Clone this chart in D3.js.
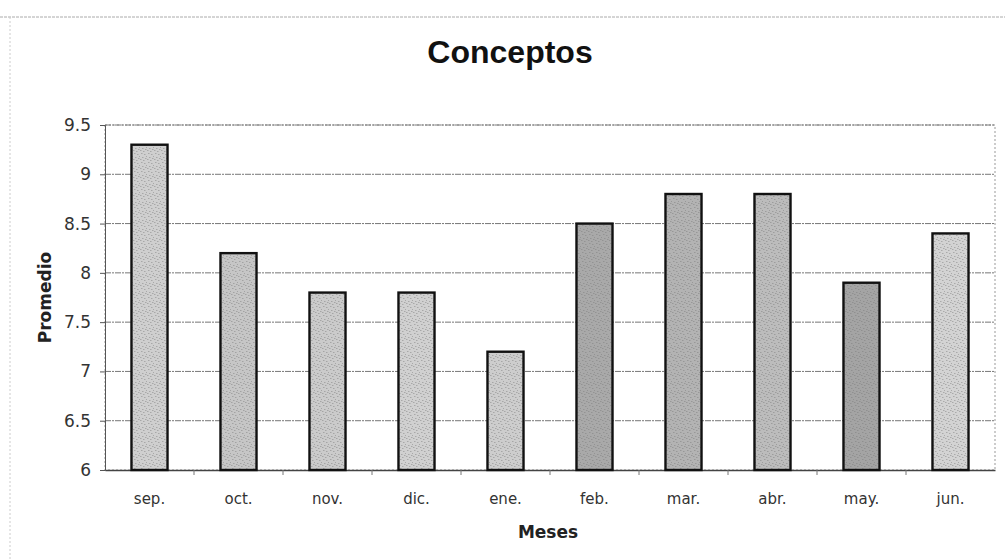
<!DOCTYPE html>
<html>
<head>
<meta charset="utf-8">
<script src="https://cdn.jsdelivr.net/npm/d3@7/dist/d3.min.js"></script>
<style>
  body { margin: 0; background: #fff; }
  svg { display: block; }
  text { font-family: "DejaVu Sans", sans-serif; }
</style>
</head>
<body>
<div id="chart"></div>
<script>
// data
var meses = ["sep.", "oct.", "nov.", "dic.", "ene.", "feb.", "mar.", "abr.", "may.", "jun."];
var promedio = [9.3, 8.2, 7.8, 7.8, 7.2, 8.5, 8.8, 8.8, 7.9, 8.4];
var yTicks = [6, 6.5, 7, 7.5, 8, 8.5, 9, 9.5];

// grey tone for each bar (scanned texture)
var tonos = ["#cfcfcf", "#c6c6c6", "#cbcbcb", "#d0d0d0", "#cdcdcd", "#a9a9a9", "#b3b3b3", "#bcbcbc", "#a4a4a4", "#d3d3d3"];

var W = 1005, H = 560;
var margin = { top: 125, right: 10, bottom: 90, left: 105 };
var width = W - margin.left - margin.right,
    height = H - margin.top - margin.bottom;

var svg = d3.select("#chart").append("svg")
    .attr("width", W)
    .attr("height", H);

// stipple texture
var defs = svg.append("defs");
var pat = defs.append("pattern")
    .attr("id", "stipple")
    .attr("width", 7).attr("height", 9)
    .attr("patternUnits", "userSpaceOnUse");
[[1,1],[4,2],[2,5],[5,6],[0,7],[6,4],[3,8]].forEach(function(p){
    pat.append("rect").attr("x", p[0]).attr("y", p[1])
        .attr("width", 1.5).attr("height", 1)
        .attr("fill", "#777").attr("opacity", 0.45);
});

// outer chart border (dotted, from the scan)
svg.append("line")
    .attr("x1", 0).attr("x2", W).attr("y1", 17).attr("y2", 17)
    .attr("stroke", "#aaa").attr("stroke-dasharray", "3,1");
svg.append("line")
    .attr("x1", 10).attr("x2", 10).attr("y1", 17).attr("y2", H)
    .attr("stroke", "#ccc").attr("stroke-dasharray", "2,2");

var g = svg.append("g")
    .attr("transform", "translate(" + margin.left + "," + margin.top + ")");

var x = d3.scaleBand()
    .domain(meses)
    .range([0, width])
    .paddingInner(0.595)
    .paddingOuter(0.2975);

var y = d3.scaleLinear()
    .domain([6, 9.5])
    .range([height, 0]);

// plot area border
g.append("rect")
    .attr("width", width).attr("height", height)
    .attr("fill", "none")
    .attr("stroke", "#999")
    .attr("stroke-dasharray", "2,2");

// gridlines
g.selectAll(".grid")
    .data(yTicks.filter(function(d){ return d > 6; }))
    .enter().append("line")
    .attr("class", "grid")
    .attr("x1", 0).attr("x2", width)
    .attr("y1", function(d){ return y(d); })
    .attr("y2", function(d){ return y(d); })
    .attr("stroke", "#777")
    .attr("stroke-width", 1)
    .attr("stroke-dasharray", "6,1,2,1");

// y axis
var yAxis = d3.axisLeft(y)
    .tickValues(yTicks)
    .tickSize(5)
    .tickPadding(9)
    .tickFormat(function(d){ return String(d); });

var ya = g.append("g").attr("class", "y-axis").call(yAxis);
ya.select(".domain").attr("stroke", "#555");
ya.selectAll(".tick line").attr("stroke", "#555");
ya.selectAll(".tick text")
    .attr("fill", "#333")
    .style("font-size", "17px")
    .style("font-family", "DejaVu Sans, sans-serif");

// x axis
var xAxis = d3.axisBottom(x).tickSize(0).tickPadding(23);
var xa = g.append("g")
    .attr("class", "x-axis")
    .attr("transform", "translate(0," + height + ")")
    .call(xAxis);
xa.select(".domain").attr("stroke", "#444").attr("stroke-width", 1.5);
xa.selectAll(".tick text")
    .attr("fill", "#333")
    .style("font-size", "15px")
    .style("font-family", "DejaVu Sans, sans-serif");

// x ticks at category boundaries
var step = x.step();
g.selectAll(".xb")
    .data(meses.slice(1))
    .enter().append("line")
    .attr("class", "xb")
    .attr("x1", function(d){ return x(d) - x.paddingInner() * step / 2; })
    .attr("x2", function(d){ return x(d) - x.paddingInner() * step / 2; })
    .attr("y1", height).attr("y2", height + 5)
    .attr("stroke", "#777");

// bars
var bars = g.selectAll(".bar")
    .data(meses)
    .enter().append("g")
    .attr("class", "bar");

bars.append("rect")
    .attr("x", function(d){ return x(d); })
    .attr("y", function(d, i){ return y(promedio[i]); })
    .attr("width", x.bandwidth())
    .attr("height", function(d, i){ return height - y(promedio[i]); })
    .attr("fill", function(d, i){ return tonos[i]; });

bars.append("rect")
    .attr("x", function(d){ return x(d); })
    .attr("y", function(d, i){ return y(promedio[i]); })
    .attr("width", x.bandwidth())
    .attr("height", function(d, i){ return height - y(promedio[i]); })
    .attr("fill", "url(#stipple)")
    .attr("stroke", "#111")
    .attr("stroke-width", 2.4);

// title
svg.append("text")
    .attr("x", 510).attr("y", 63)
    .attr("text-anchor", "middle")
    .style("font-family", "Liberation Sans, Arial, sans-serif")
    .style("font-size", "32px")
    .style("font-weight", "bold")
    .attr("fill", "#111")
    .text("Conceptos");

// axis titles
svg.append("text")
    .attr("x", margin.left + width / 2 - 2).attr("y", 538)
    .attr("text-anchor", "middle")
    .style("font-size", "17px")
    .style("font-weight", "bold")
    .attr("fill", "#222")
    .text("Meses");

svg.append("text")
    .attr("transform", "translate(51," + (margin.top + height / 2) + ") rotate(-90)")
    .attr("text-anchor", "middle")
    .style("font-size", "17px")
    .style("font-weight", "bold")
    .attr("fill", "#222")
    .text("Promedio");
</script>
</body>
</html>
